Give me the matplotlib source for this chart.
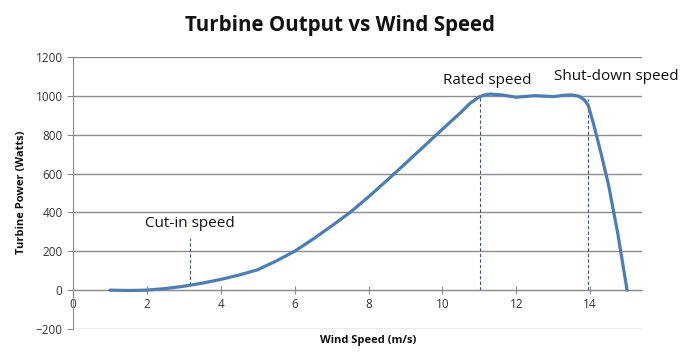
import matplotlib
matplotlib.use("Agg")
import matplotlib.pyplot as plt

wind_speed = [1, 1.5, 2, 2.5, 3, 3.5, 4, 4.5, 5, 5.5, 6, 6.5, 7, 7.5, 8, 8.5, 9, 9.5,
              10, 10.5, 10.75, 11, 11.15, 11.3, 11.6, 12, 12.5, 13, 13.3, 13.5, 13.7,
              13.85, 13.95, 14.1, 14.3, 14.5, 14.75, 15]
power = [0, -2, 0, 8, 20, 36, 55, 78, 105, 150, 200, 263, 330, 400, 480, 565, 652, 740,
         828, 915, 962, 995, 1005, 1009, 1005, 993, 1001, 996, 1003, 1005, 998,
         978, 950, 850, 700, 540, 290, 0]

markers_x = [3.17, 11.03, 13.94]
markers_y0 = [28, 0, 0]
markers_y1 = [268, 1000, 985]
marker_labels = ["Cut-in speed", "Rated speed", "Shut-down speed"]
label_x = [3.17, 11.22, 14.7]
label_y = [345, 1078, 1098]

x_ticks = [0, 2, 4, 6, 8, 10, 12, 14]
y_ticks = [-200, 0, 200, 400, 600, 800, 1000, 1200]

plt.rcParams['font.family'] = ['Open Sans', 'DejaVu Sans']

fig = plt.figure(figsize=(6.85, 3.63), dpi=100)
ax = fig.add_axes([0.1066, 0.0937, 0.8304, 0.7493])

ax.set_xlim(0, 15.4)
ax.set_ylim(-200, 1200)
ax.set_yticks(y_ticks)
ax.set_xticks(x_ticks)
ax.grid(axis='y', color='#8c8c8c', linewidth=1.0)
ax.set_axisbelow(True)

for s in ['top', 'right']:
    ax.spines[s].set_visible(False)
ax.spines['bottom'].set_position(('data', 0))
ax.spines['bottom'].set_color('#8c8c8c')
ax.spines['left'].set_color('#8c8c8c')
ax.tick_params(axis='both', colors='#8c8c8c', labelcolor='#333333', labelsize=8.5, length=4)
ax.tick_params(axis='x', direction='inout', length=6, pad=3)

ax.plot(wind_speed, power, color='#4a7ebb', linewidth=2.3, solid_capstyle='round',
        solid_joinstyle='round', zorder=3)

for x, y0, y1 in zip(markers_x, markers_y0, markers_y1):
    ax.plot([x, x], [y0, y1], color='#2f5597', linestyle=(0, (3, 2)), linewidth=0.8, zorder=2)

for lbl, lx, ly in zip(marker_labels, label_x, label_y):
    ax.text(lx, ly, lbl, ha='center', va='center', fontsize=11, color='#111111', clip_on=False)

fig.text(0.497, 0.93, "Turbine Output vs Wind Speed", ha='center', va='center',
         fontsize=14.8, fontweight='bold', color='#111111')
fig.text(0.537, 0.063, "Wind Speed (m/s)", ha='center', va='center',
         fontsize=8, fontweight='bold', color='#111111')
fig.text(0.032, 0.47, "Turbine Power (Watts)", ha='center', va='center', rotation=90,
         fontsize=8, fontweight='bold', color='#111111')

fig.savefig("out.png", dpi=100)
